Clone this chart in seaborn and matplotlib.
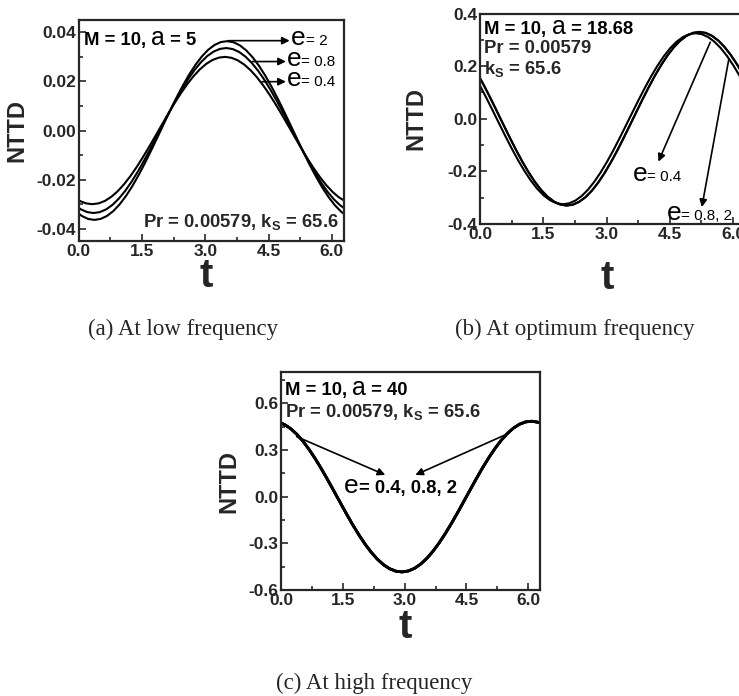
"""NTTD against t at low, optimum and high frequency"""

import matplotlib
matplotlib.use("Agg")
import matplotlib.pyplot as plt
import numpy as np
import pandas as pd
import seaborn as sns
from matplotlib.offsetbox import TextArea, HPacker, AnchoredOffsetbox, AnnotationBbox
from matplotlib.ticker import MultipleLocator, FormatStrFormatter

# values (one t list per curve)
# (a) a = 5
t_low_e04 = [-0.13, 0.02, 0.17, 0.32, 0.47, 0.62, 0.77, 0.92, 1.07, 1.22, 1.37, 1.52, 1.67, 1.82, 1.97,
             2.12, 2.27, 2.42, 2.57, 2.72, 2.87, 3.02, 3.17, 3.32, 3.47, 3.62, 3.77, 3.92, 4.07, 4.22,
             4.37, 4.52, 4.67, 4.82, 4.97, 5.12, 5.27, 5.42, 5.57, 5.72, 5.87, 6.02, 6.17, 6.32]
nttd_low_e04 = [-0.02701, -0.02866, -0.02966, -0.03000, -0.02966, -0.02866, -0.02701, -0.02476, -0.02195,
                -0.01865, -0.01493, -0.01087, -0.00657, -0.00212, 0.00237, 0.00682, 0.01113, 0.01515,
                0.01885, 0.02212, 0.02490, 0.02712, 0.02873, 0.02970, 0.03000, 0.02963, 0.02859, 0.02690,
                0.02462, 0.02178, 0.01845, 0.01471, 0.01064, 0.00632, 0.00187, -0.00263, -0.00706,
                -0.01136, -0.01536, -0.01904, -0.02229, -0.02504, -0.02723, -0.02881]
t_low_e08 = [-0.10, 0.05, 0.20, 0.35, 0.50, 0.65, 0.80, 0.95, 1.10, 1.25, 1.40, 1.55, 1.70, 1.85, 2.00,
             2.15, 2.30, 2.45, 2.60, 2.75, 2.90, 3.05, 3.20, 3.35, 3.50, 3.65, 3.80, 3.95, 4.10, 4.25,
             4.40, 4.55, 4.70, 4.85, 5.00, 5.15, 5.30, 5.45, 5.60, 5.75, 5.90, 6.05, 6.20, 6.35]
nttd_low_e08 = [-0.03026, -0.03210, -0.03322, -0.03360, -0.03322, -0.03210, -0.03026, -0.02773, -0.02459,
                -0.02089, -0.01672, -0.01218, -0.00736, -0.00238, 0.00266, 0.00763, 0.01246, 0.01696,
                0.02111, 0.02478, 0.02789, 0.03038, 0.03218, 0.03326, 0.03360, 0.03318, 0.03202, 0.03013,
                0.02757, 0.02439, 0.02066, 0.01647, 0.01191, 0.00708, 0.00209, -0.00294, -0.00791,
                -0.01273, -0.01721, -0.02133, -0.02497, -0.02805, -0.03050, -0.03226]
t_low_e2 = [-0.08, 0.07, 0.22, 0.37, 0.52, 0.67, 0.82, 0.97, 1.12, 1.27, 1.42, 1.57, 1.72, 1.87, 2.02,
            2.17, 2.32, 2.47, 2.62, 2.77, 2.92, 3.07, 3.22, 3.37, 3.52, 3.67, 3.82, 3.97, 4.12, 4.27,
            4.42, 4.57, 4.72, 4.87, 5.02, 5.17, 5.32, 5.47, 5.62, 5.77, 5.92, 6.07, 6.22, 6.37]
nttd_low_e2 = [-0.03278, -0.03477, -0.03599, -0.03640, -0.03599, -0.03477, -0.03278, -0.03004, -0.02663,
               -0.02263, -0.01811, -0.01319, -0.00797, -0.00258, 0.00288, 0.00827, 0.01350, 0.01838,
               0.02287, 0.02684, 0.03021, 0.03291, 0.03486, 0.03604, 0.03640, 0.03595, 0.03468, 0.03264,
               0.02987, 0.02643, 0.02239, 0.01785, 0.01291, 0.00767, 0.00227, -0.00319, -0.00857,
               -0.01379, -0.01864, -0.02310, -0.02705, -0.03039, -0.03304, -0.03495]

# (b) a = 18.68, e = 0.8 and e = 2 coincide
t_opt_e04 = [-0.14, 0.01, 0.16, 0.31, 0.46, 0.61, 0.76, 0.91, 1.06, 1.21, 1.36, 1.51, 1.66, 1.81, 1.96,
             2.11, 2.26, 2.41, 2.56, 2.71, 2.86, 3.01, 3.16, 3.31, 3.46, 3.61, 3.76, 3.91, 4.06, 4.21,
             4.36, 4.51, 4.66, 4.81, 4.96, 5.11, 5.26, 5.41, 5.56, 5.71, 5.86, 6.01, 6.16, 6.31]
nttd_opt_e04 = [0.16644, 0.12309, 0.07650, 0.02844, -0.02026, -0.06851, -0.11522, -0.15934, -0.19988,
                -0.23594, -0.26669, -0.29146, -0.30968, -0.32094, -0.32499, -0.32175, -0.31128, -0.29382,
                -0.26977, -0.23965, -0.20416, -0.16408, -0.12055, -0.07384, -0.02571, 0.02299, 0.07118,
                0.11777, 0.16171, 0.20202, 0.23780, 0.26824, 0.29265, 0.31049, 0.32135, 0.32500, 0.32135,
                0.31049, 0.29265, 0.26824, 0.23780, 0.20202, 0.16171, 0.11777]
t_opt_e08 = [-0.05, 0.10, 0.25, 0.40, 0.55, 0.70, 0.85, 1.00, 1.15, 1.30, 1.45, 1.60, 1.75, 1.90, 2.05,
             2.20, 2.35, 2.50, 2.65, 2.80, 2.95, 3.10, 3.25, 3.40, 3.55, 3.70, 3.85, 4.00, 4.15, 4.30,
             4.45, 4.60, 4.75, 4.90, 5.05, 5.20, 5.35, 5.50, 5.65, 5.80, 5.95, 6.10, 6.25, 6.40]
nttd_opt_e08 = [0.16900, 0.12498, 0.07768, 0.02888, -0.02058, -0.06956, -0.11699, -0.16179, -0.20296,
                -0.23957, -0.27079, -0.29594, -0.31444, -0.32588, -0.32999, -0.32670, -0.31607, -0.29834,
                -0.27392, -0.24334, -0.20730, -0.16660, -0.12240, -0.07498, -0.02611, 0.02334, 0.07227,
                0.11958, 0.16420, 0.20513, 0.24146, 0.27236, 0.29715, 0.31526, 0.32629, 0.33000, 0.32629,
                0.31526, 0.29715, 0.27236, 0.24146, 0.20513, 0.16420, 0.11958]
t_opt_e2 = t_opt_e08
nttd_opt_e2 = nttd_opt_e08

# (c) a = 40, the three e curves fall on one line
t_high = [-0.063, 0.087, 0.237, 0.387, 0.537, 0.687, 0.837, 0.987, 1.137, 1.287, 1.437, 1.587, 1.737,
          1.887, 2.037, 2.187, 2.337, 2.487, 2.637, 2.787, 2.937, 3.087, 3.237, 3.387, 3.537, 3.687,
          3.837, 3.987, 4.137, 4.287, 4.437, 4.587, 4.737, 4.887, 5.037, 5.187, 5.337, 5.487, 5.637,
          5.787, 5.937, 6.087, 6.237, 6.387]
nttd_high = [0.47856, 0.46238, 0.43582, 0.39946, 0.35414, 0.30086, 0.24082, 0.17538, 0.10600, 0.03424,
             -0.03829, -0.10996, -0.17953, -0.24435, -0.30403, -0.35690, -0.40175, -0.43757, -0.46357,
             -0.47915, -0.48398, -0.47795, -0.46118, -0.43405, -0.39717, -0.35136, -0.29767, -0.23729,
             -0.17159, -0.10203, -0.03018, 0.04235, 0.11393, 0.18331, 0.24786, 0.30720, 0.35965, 0.40402,
             0.43931, 0.46472, 0.47971, 0.48393, 0.47728, 0.45991]

e_levels = ["0.4", "0.8", "2"]
captions = ["(a) At low frequency", "(b) At optimum frequency", "(c) At high frequency"]

sns.set_style("ticks")
plt.rcParams['font.family'] = ['Liberation Sans', 'DejaVu Sans']
plt.rcParams['font.weight'] = 'bold'
plt.rcParams['mathtext.fontset'] = 'custom'
plt.rcParams['mathtext.bf'] = 'Liberation Sans:bold'
plt.rcParams['mathtext.rm'] = 'Liberation Sans'

NOTE_SIZE = 13.3


def draw_curves(ax, curves, lw=1.5):
    frames = [pd.DataFrame({'t': t, 'NTTD': y, 'e': name}) for name, (t, y) in zip(e_levels, curves)]
    df = pd.concat(frames, ignore_index=True)
    sns.lineplot(data=df, x='t', y='NTTD', hue='e', palette=['black'] * len(curves),
                 estimator=None, sort=False, legend=False, lw=lw, ax=ax)


def style_axes(ax, ylim, ystep, fmt, ylab_x, xlab_y):
    ax.set_xlim(0, 2 * np.pi)
    ax.set_ylim(*ylim)
    ax.xaxis.set_major_locator(MultipleLocator(1.5))
    ax.xaxis.set_minor_locator(MultipleLocator(0.75))
    ax.yaxis.set_major_locator(MultipleLocator(ystep))
    ax.yaxis.set_minor_locator(MultipleLocator(ystep / 2))
    ax.xaxis.set_major_formatter(FormatStrFormatter('%.1f'))
    ax.yaxis.set_major_formatter(FormatStrFormatter(fmt))
    ax.tick_params(which='both', direction='in', top=False, right=False, width=1.2, labelsize=12.5, pad=2)
    ax.tick_params(which='major', length=5)
    ax.tick_params(which='minor', length=3)
    for sp in ax.spines.values():
        sp.set_linewidth(1.6)
        sp.set_visible(True)
    ax.set_ylabel('NTTD', fontsize=17, fontweight='bold')
    ax.yaxis.set_label_coords(ylab_x, 0.5)
    ax.set_xlabel('t', fontsize=29, fontweight='bold')
    ax.xaxis.set_label_coords(0.48, xlab_y)


def pack(parts):
    areas = [TextArea(s, textprops=dict(fontsize=fs, fontweight=fw, color='black')) for s, fs, fw in parts]
    return HPacker(children=areas, align='baseline', pad=0, sep=0)


def head_text(ax, value, xy):
    parts = [("M = 10, ", NOTE_SIZE, 'bold'), ("a", 18, 'normal'), (" = " + value, NOTE_SIZE, 'bold')]
    box = AnchoredOffsetbox(loc='center left', child=pack(parts), pad=0, borderpad=0, frameon=False,
                            bbox_to_anchor=xy, bbox_transform=ax.transAxes)
    box.set_clip_on(False)
    ax.add_artist(box)


def e_label(ax, rest, xy, size=11, bold=False):
    fw = 'bold' if bold else 'normal'
    ab = AnnotationBbox(pack([("e", 19, 'normal'), (rest, size, fw)]), xy, xycoords='data',
                        box_alignment=(0, 0.4), frameon=False, pad=0, annotation_clip=False)
    ab.set_clip_on(False)
    ax.add_artist(ab)


def arrow(ax, start, end):
    ax.annotate('', xy=end, xytext=start, annotation_clip=False,
                arrowprops=dict(arrowstyle='-|>', color='black', lw=1.2, mutation_scale=11,
                                shrinkA=0, shrinkB=0))


fig = plt.figure(figsize=(7.39, 6.96), dpi=100)
ax_a = fig.add_axes([0.1066, 0.6537, 0.3586, 0.3175])
ax_b = fig.add_axes([0.6495, 0.6782, 0.3586, 0.3024])
ax_c = fig.add_axes([0.3802, 0.1523, 0.3505, 0.3132])

# (a) low frequency
draw_curves(ax_a, [(t_low_e04, nttd_low_e04), (t_low_e08, nttd_low_e08), (t_low_e2, nttd_low_e2)])
style_axes(ax_a, (-0.045, 0.045), 0.02, '%.2f', -0.19, -0.072)
head_text(ax_a, "5", (0.02, 0.92))
ax_a.text(0.98, 0.085, r"Pr = 0.00579, $\mathbf{k_S}$ = 65.6", transform=ax_a.transAxes,
          ha='right', va='center', fontsize=NOTE_SIZE, fontweight='bold')
arrow(ax_a, (3.55, 0.0366), (5.0, 0.0366))
e_label(ax_a, "= 2", (5.03, 0.0366))
arrow(ax_a, (4.11, 0.0281), (4.91, 0.0281))
e_label(ax_a, "= 0.8", (4.93, 0.0281))
arrow(ax_a, (4.35, 0.0199), (4.91, 0.0199))
e_label(ax_a, "= 0.4", (4.93, 0.0199))

# (b) optimum frequency
draw_curves(ax_b, [(t_opt_e04, nttd_opt_e04), (t_opt_e08, nttd_opt_e08), (t_opt_e2, nttd_opt_e2)])
style_axes(ax_b, (-0.4, 0.4), 0.2, '%.1f', -0.2, -0.166)
head_text(ax_b, "18.68", (0.017, 0.936))
ax_b.text(0.017, 0.832, "Pr = 0.00579", transform=ax_b.transAxes, ha='left', va='center',
          fontsize=NOTE_SIZE)
ax_b.text(0.017, 0.735, r"$\mathbf{k_S}$ = 65.6", transform=ax_b.transAxes, ha='left', va='center',
          fontsize=NOTE_SIZE)
arrow(ax_b, (5.46, 0.291), (4.23, -0.163))
e_label(ax_b, "= 0.4", (3.62, -0.221))
arrow(ax_b, (5.9, 0.227), (5.26, -0.336))
e_label(ax_b, "= 0.8, 2", (4.42, -0.368))

# (c) high frequency
draw_curves(ax_c, [(t_high, nttd_high)] * 3, lw=2.0)
style_axes(ax_c, (-0.6, 0.8), 0.3, '%.1f', -0.155, -0.083)
head_text(ax_c, "40", (0.015, 0.925))
ax_c.text(0.015, 0.818, r"Pr = 0.00579, $\mathbf{k_S}$ = 65.6", transform=ax_c.transAxes,
          ha='left', va='center', fontsize=NOTE_SIZE)
arrow(ax_c, (0.38, 0.385), (2.53, 0.139))
arrow(ax_c, (5.53, 0.407), (3.26, 0.139))
e_label(ax_c, "= 0.4, 0.8, 2", (1.53, 0.054), size=13.3, bold=True)

# captions under the panels
for (x, y), cap in zip([(0.248, 0.526), (0.778, 0.526), (0.506, 0.018)], captions):
    fig.text(x, y, cap, ha='center', va='center', family='Liberation Serif', fontsize=16.5,
             fontweight='normal')

fig.savefig('out.png', dpi=100)
